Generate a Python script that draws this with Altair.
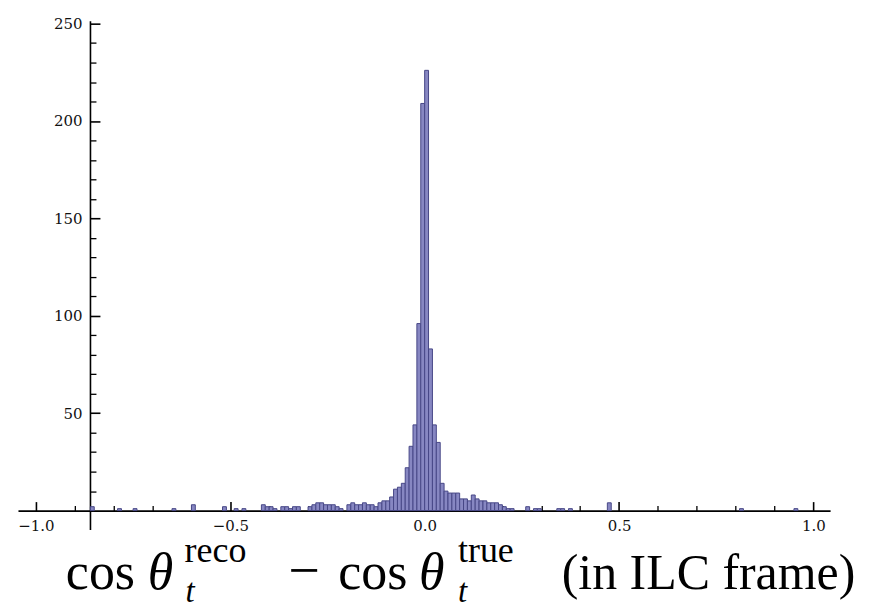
import altair as alt
import pandas as pd

# ---- data (bin lower edges, width 0.01) ----
bin_lo = [-0.86, -0.79, -0.75, -0.65, -0.60, -0.52, -0.49, -0.47,
          -0.42, -0.41, -0.40, -0.39, -0.37, -0.36, -0.35, -0.34, -0.33,
          -0.30, -0.29, -0.28, -0.27, -0.26, -0.25, -0.24, -0.23, -0.22,
          -0.20, -0.19, -0.18, -0.17, -0.16, -0.15, -0.14, -0.13, -0.12, -0.11,
          -0.10, -0.09, -0.08, -0.07, -0.06, -0.05, -0.04, -0.03, -0.02, -0.01,
          0.00, 0.01, 0.02, 0.03, 0.04, 0.05, 0.06, 0.07, 0.08, 0.09,
          0.10, 0.11, 0.12, 0.13, 0.14, 0.15, 0.16, 0.17, 0.18, 0.19,
          0.20, 0.21, 0.22, 0.26, 0.28, 0.29, 0.34, 0.35, 0.37, 0.47, 0.81, 0.95]
counts = [2, 1, 1, 1, 3, 2, 1, 1,
          3, 2, 2, 1, 2, 2, 1, 2, 2,
          2, 3, 4, 4, 3, 3, 3, 2, 1,
          3, 4, 3, 3, 4, 3, 3, 2, 4, 5,
          5, 7, 11, 12, 14, 22, 33, 44, 96, 209,
          226, 83, 44, 35, 14, 10, 9, 9, 9, 6,
          6, 5, 8, 6, 5, 5, 4, 4, 4, 3,
          2, 1, 1, 2, 1, 1, 1, 1, 1, 4, 1, 1]
bin_width = 0.01

x_major = [-1.0, -0.5, 0.0, 0.5, 1.0]
x_minor = [-0.9, -0.8, -0.7, -0.6, -0.4, -0.3, -0.2, -0.1,
           0.1, 0.2, 0.3, 0.4, 0.6, 0.7, 0.8, 0.9]
y_major = [50, 100, 150, 200, 250]
y_minor = [10, 20, 30, 40, 60, 70, 80, 90, 110, 120, 130, 140,
           160, 170, 180, 190, 210, 220, 230, 240]

df = pd.DataFrame({"lo": bin_lo, "count": counts})
df["hi"] = df["lo"] + bin_width

# ---- geometry ----
X_DOM = [-1.0462, 1.0430]
Y_DOM = [-9.7, 251.5]
W, H = 814, 510
Y_AXIS_AT = -0.861  # where the vertical axis crosses

y0_px = H * (Y_DOM[1] - 0) / (Y_DOM[1] - Y_DOM[0])
yax_px = W * (Y_AXIS_AT - X_DOM[0]) / (X_DOM[1] - X_DOM[0])

xs = alt.Scale(domain=X_DOM, nice=False, zero=False)
ys = alt.Scale(domain=Y_DOM, nice=False, zero=False)

LABEL_FONT = "DejaVu Serif"
common = dict(grid=False, title=None, domainColor="black", tickColor="black",
              labelColor="#111111", labelFont=LABEL_FONT, labelFontSize=15,
              labelFlush=False, labelOverlap=False)

BAR_FILL = "#8787c2"
BAR_EDGE = "#474787"

bars = alt.Chart(df).mark_rect(
    fill=BAR_FILL, stroke=BAR_EDGE, strokeWidth=1
).encode(
    x=alt.X("lo:Q", scale=xs, axis=alt.Axis(
        orient="bottom", offset=-(H - y0_px), values=x_major, format=".1f",
        ticks=False, tickSize=0, labelPadding=8, domainWidth=1.6, **common)),
    x2="hi:Q",
    y=alt.Y("count:Q", scale=ys, axis=alt.Axis(
        orient="left", offset=-yax_px, values=y_major, format="d",
        ticks=False, tickSize=0, labelPadding=8, domainWidth=1.6, **common)),
    y2=alt.datum(0),
)

major_ticks = alt.Chart(df).mark_point(opacity=0).encode(
    x=alt.X("lo:Q", scale=xs, axis=alt.Axis(
        orient="top", offset=-y0_px, values=x_major, labels=False,
        domain=False, ticks=True, tickSize=9, tickWidth=1.6, **common)),
    y=alt.Y("count:Q", scale=ys, axis=alt.Axis(
        orient="right", offset=-(W - yax_px), values=y_major, labels=False,
        domain=False, ticks=True, tickSize=10, tickWidth=1.6, **common)),
)

minor_ticks = alt.Chart(df).mark_point(opacity=0).encode(
    x=alt.X("lo:Q", scale=xs, axis=alt.Axis(
        orient="top", offset=-y0_px, values=x_minor, labels=False,
        domain=False, ticks=True, tickSize=5, tickWidth=1.3, **common)),
    y=alt.Y("count:Q", scale=ys, axis=alt.Axis(
        orient="right", offset=-(W - yax_px), values=y_minor, labels=False,
        domain=False, ticks=True, tickSize=6, tickWidth=1.3, **common)),
)

# ---- axis title built from pieces (LaTeX-like) ----
TF = "Liberation Serif"
one = alt.InlineData(values=[{}])
BASE = 570   # main baseline (plot coords)
SUP = 543
SUB = 583


def piece(txt, x, y, size=52, style="normal"):
    return alt.Chart(one).mark_text(
        text=txt, x=x, y=y, align="left", baseline="alphabetic",
        font=TF, fontSize=size, fontStyle=style, color="black")


title_layers = [
    piece("cos", 48, BASE),
    piece("θ", 130, BASE, style="italic"),
    piece("reco", 167, SUP, size=36),
    piece("t", 168, SUB, size=33, style="italic"),
    piece("−", 271, BASE, size=56),
    piece("cos", 321, BASE),
    piece("θ", 402, BASE, style="italic"),
    piece("true", 441, SUP, size=36),
    piece("t", 441, SUB, size=33, style="italic"),
    piece("(in ILC frame)", 545, BASE, size=50),
]

chart = alt.layer(bars, major_ticks, minor_ticks, *title_layers).resolve_scale(
    x="independent", y="independent"
).properties(
    width=W, height=H,
    autosize=alt.AutoSizeParams(type="none"),
    padding={"left": 10, "top": 12, "right": 40, "bottom": 80},
).configure_view(stroke=None)

chart.save("out.html", embed_options={"renderer": "svg", "actions": False})
